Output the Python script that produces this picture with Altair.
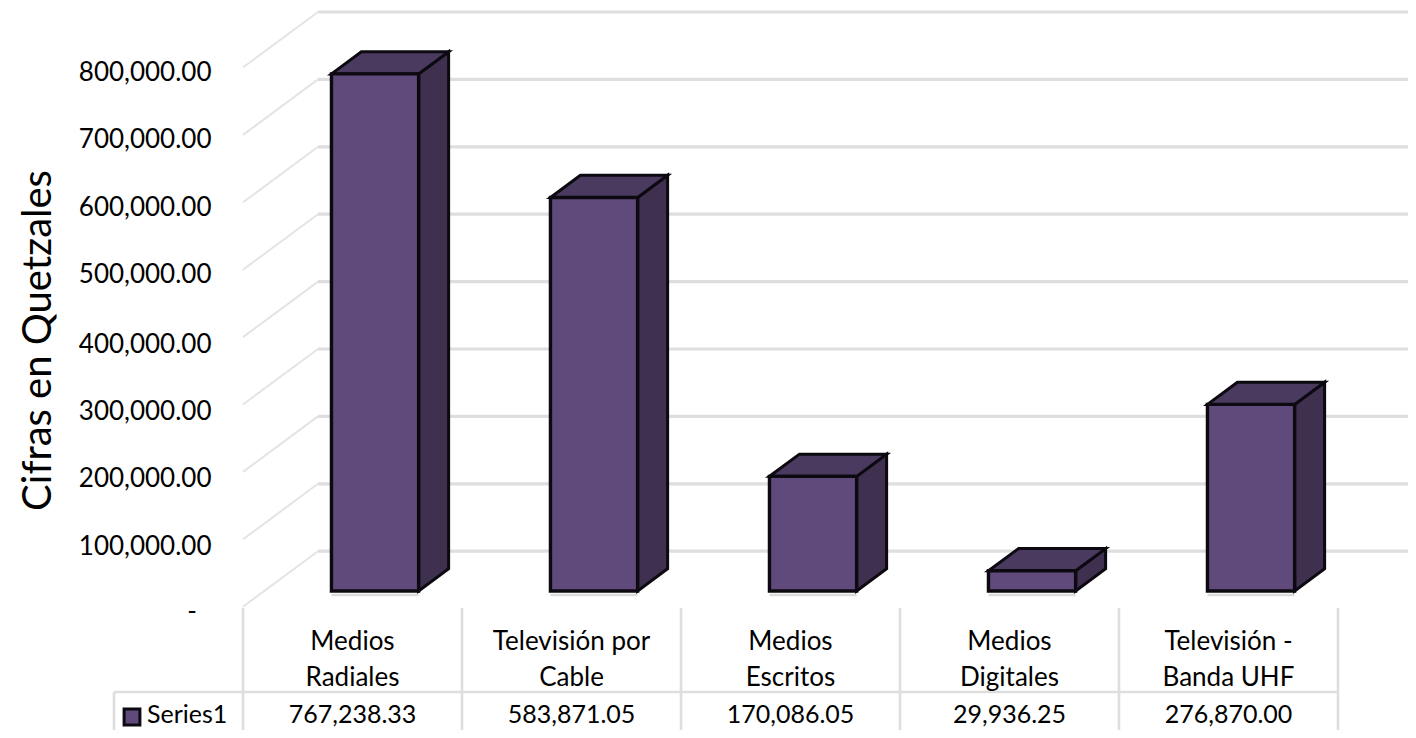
import altair as alt
import pandas as pd

categories = [["Medios", "Radiales"], ["Televisión por", "Cable"], ["Medios", "Escritos"],
              ["Medios", "Digitales"], ["Televisión -", "Banda UHF"]]
values = [767238.33, 583871.05, 170086.05, 29936.25, 276870.00]
value_labels = ["767,238.33", "583,871.05", "170,086.05", "29,936.25", "276,870.00"]
ticks = [0, 100000, 200000, 300000, 400000, 500000, 600000, 700000, 800000]
series_name = "Series1"
y_title = "Cifras en Quetzales"

FONT = "Lato"
FRONT, TOP, SIDE, EDGE = "#604a7b", "#4a3a60", "#3f3050", "#0c0a10"
GRID = "#dedede"

# projection of the 3D look: category units across, money units up
PXU, PXV = 219.0, 67.4 / 100000
X0, Y0 = 243.0, 606.7
W, H = 1400, 722
def u_at(px): return (px - X0) / PXU
def v_at(py): return (Y0 - py) / PXV
DX, DV = 75 / PXU, 55.5 / PXV            # full depth of the floor
D1, D2 = 0.283, 0.683                    # bar's front and back planes
L, R = 0.307, 0.705                      # bar's edges inside its category

xs = alt.Scale(domain=[u_at(8), u_at(8 + W)], nice=False, zero=False)
ys = alt.Scale(domain=[v_at(8 + H), v_at(8)], nice=False, zero=False)
X = lambda f: alt.X(f, type="quantitative", scale=xs, axis=None)
Y = lambda f: alt.Y(f, type="quantitative", scale=ys, axis=None)

# walls
back, depth = [], []
for t in ticks:
    back += [dict(g=t, x=DX, y=t + DV), dict(g=t, x=5.02 + DX, y=t + DV)]
    depth += [dict(g=t, x=0, y=t), dict(g=t, x=DX, y=t + DV)]
grid_back = alt.Chart(pd.DataFrame(back)).mark_line(color=GRID, strokeWidth=3.2).encode(
    x=X("x"), y=Y("y"), detail="g:N")
grid_depth = alt.Chart(pd.DataFrame(depth)).mark_line(color="#e4e4e4", strokeWidth=2).encode(
    x=X("x"), y=Y("y"), detail="g:N")

# bars
front_rows, side_rows, top_rows = [], [], []
for i, v in enumerate(values):
    fx = DX * D1
    bx = DX * D2
    fb, bb = DV * D1, DV * D2
    front_rows.append(dict(x=i + L + fx, x2=i + R + fx, y=v + fb, y2=fb,
                           sh=fb - 4 / PXV))
    side_rows += [dict(g=i, x=i + R + fx, y=v + fb, y2=fb),
                  dict(g=i, x=i + R + bx, y=v + bb, y2=bb)]
    top_rows += [dict(g=i, y=v + fb, x=i + L + fx, x2=i + R + fx),
                 dict(g=i, y=v + bb, x=i + L + bx, x2=i + R + bx)]
front_df = pd.DataFrame(front_rows)
shadow = alt.Chart(front_df).mark_rule(color="#dcdcdc", strokeWidth=2.5).encode(
    x=X("x"), x2="x2", y=Y("sh"))
side = alt.Chart(pd.DataFrame(side_rows)).mark_area(
    color=SIDE, stroke=EDGE, strokeWidth=3, strokeJoin="miter").encode(
    x=X("x"), y=Y("y"), y2="y2", detail="g:N")
top = alt.Chart(pd.DataFrame(top_rows)).mark_area(
    orient="horizontal", color=TOP, stroke=EDGE, strokeWidth=3).encode(
    y=Y("y"), x=X("x"), x2="x2", detail="g:N")
front = alt.Chart(front_df).mark_rect(
    color=FRONT, stroke=EDGE, strokeWidth=3.4).encode(
    x=X("x"), x2="x2", y=Y("y"), y2="y2")

# data table
edges = [dict(x=u_at(114), y=v_at(692), y2=v_at(738))]
edges += [dict(x=float(i), y=v_at(608), y2=v_at(738)) for i in range(6)]
table_v = alt.Chart(pd.DataFrame(edges)).mark_rule(color=GRID, strokeWidth=2.6).encode(
    x=X("x"), y=Y("y"), y2="y2")
table_h = alt.Chart(pd.DataFrame([dict(x=u_at(114), x2=5.0, y=v_at(692))])).mark_rule(
    color=GRID, strokeWidth=2.6).encode(x=X("x"), x2="x2", y=Y("y"))

rows = []
for i, lines in enumerate(categories):
    rows.append(dict(x=i + 0.5, y=v_at(642), t=lines[0]))
    rows.append(dict(x=i + 0.5, y=v_at(678), t=lines[1]))
table_text = alt.Chart(pd.DataFrame(rows)).mark_text(
    font=FONT, fontSize=26, color="#000", baseline="middle", align="center").encode(
    x=X("x"), y=Y("y"), text="t:N")
value_rows = [dict(x=i + 0.5, y=v_at(714.5), t=lab) for i, lab in enumerate(value_labels)]
value_text = alt.Chart(pd.DataFrame(value_rows)).mark_text(
    font=FONT, fontSize=25, color="#000", baseline="middle", align="center").encode(
    x=X("x"), y=Y("y"), text="t:N")
swatch = alt.Chart(pd.DataFrame([dict(x=u_at(132), y=v_at(717))])).mark_square(
    size=250, color=FRONT, stroke=EDGE, strokeWidth=3, opacity=1).encode(x=X("x"), y=Y("y"))
series_text = alt.Chart(pd.DataFrame([dict(x=u_at(147), y=v_at(714.5), t=series_name)])).mark_text(
    font=FONT, fontSize=25, color="#000", baseline="middle", align="left").encode(
    x=X("x"), y=Y("y"), text="t:N")

# the zero label of the value axis is a dash that sits left of the others
dash = alt.Chart(pd.DataFrame([dict(x=u_at(192), y=0, t="-")])).mark_text(
    font=FONT, fontSize=26, color="#000", baseline="middle", align="center", dy=5).encode(
    x=X("x"), y=Y("y"), text="t:N")

# value axis
axis_layer = alt.Chart(pd.DataFrame({"t": ticks})).mark_point(opacity=0).encode(
    x=alt.value(0),
    y=alt.Y("t:Q", scale=ys, axis=alt.Axis(
        values=ticks[1:], offset=-203, domain=False, ticks=False, grid=False, labelPadding=0,
        format=",.2f",
        labelFont=FONT, labelFontSize=26, labelColor="#000",
        labelOffset={"condition": {"test": "datum.value <= 400000", "value": 7}, "value": 5},
        labelBound=False, labelOverlap=False,
        title=y_title, titleFont=FONT, titleFontSize=40, titleFontWeight="normal",
        titleColor="#000", titleX=-173, titleY=332, titleAngle=-90,
        titleAlign="center", titleBaseline="middle")))

chart = alt.layer(axis_layer, grid_back, grid_depth, table_v, table_h, shadow,
                  side, top, front, table_text, value_text, swatch, series_text, dash).resolve_axis(
    y="independent").properties(
    width=W, height=H, padding=0, autosize=alt.AutoSizeParams(type="none"),
    background="white").configure_view(stroke=None)

chart.save("out.html", embed_options={"renderer": "svg", "actions": False})
